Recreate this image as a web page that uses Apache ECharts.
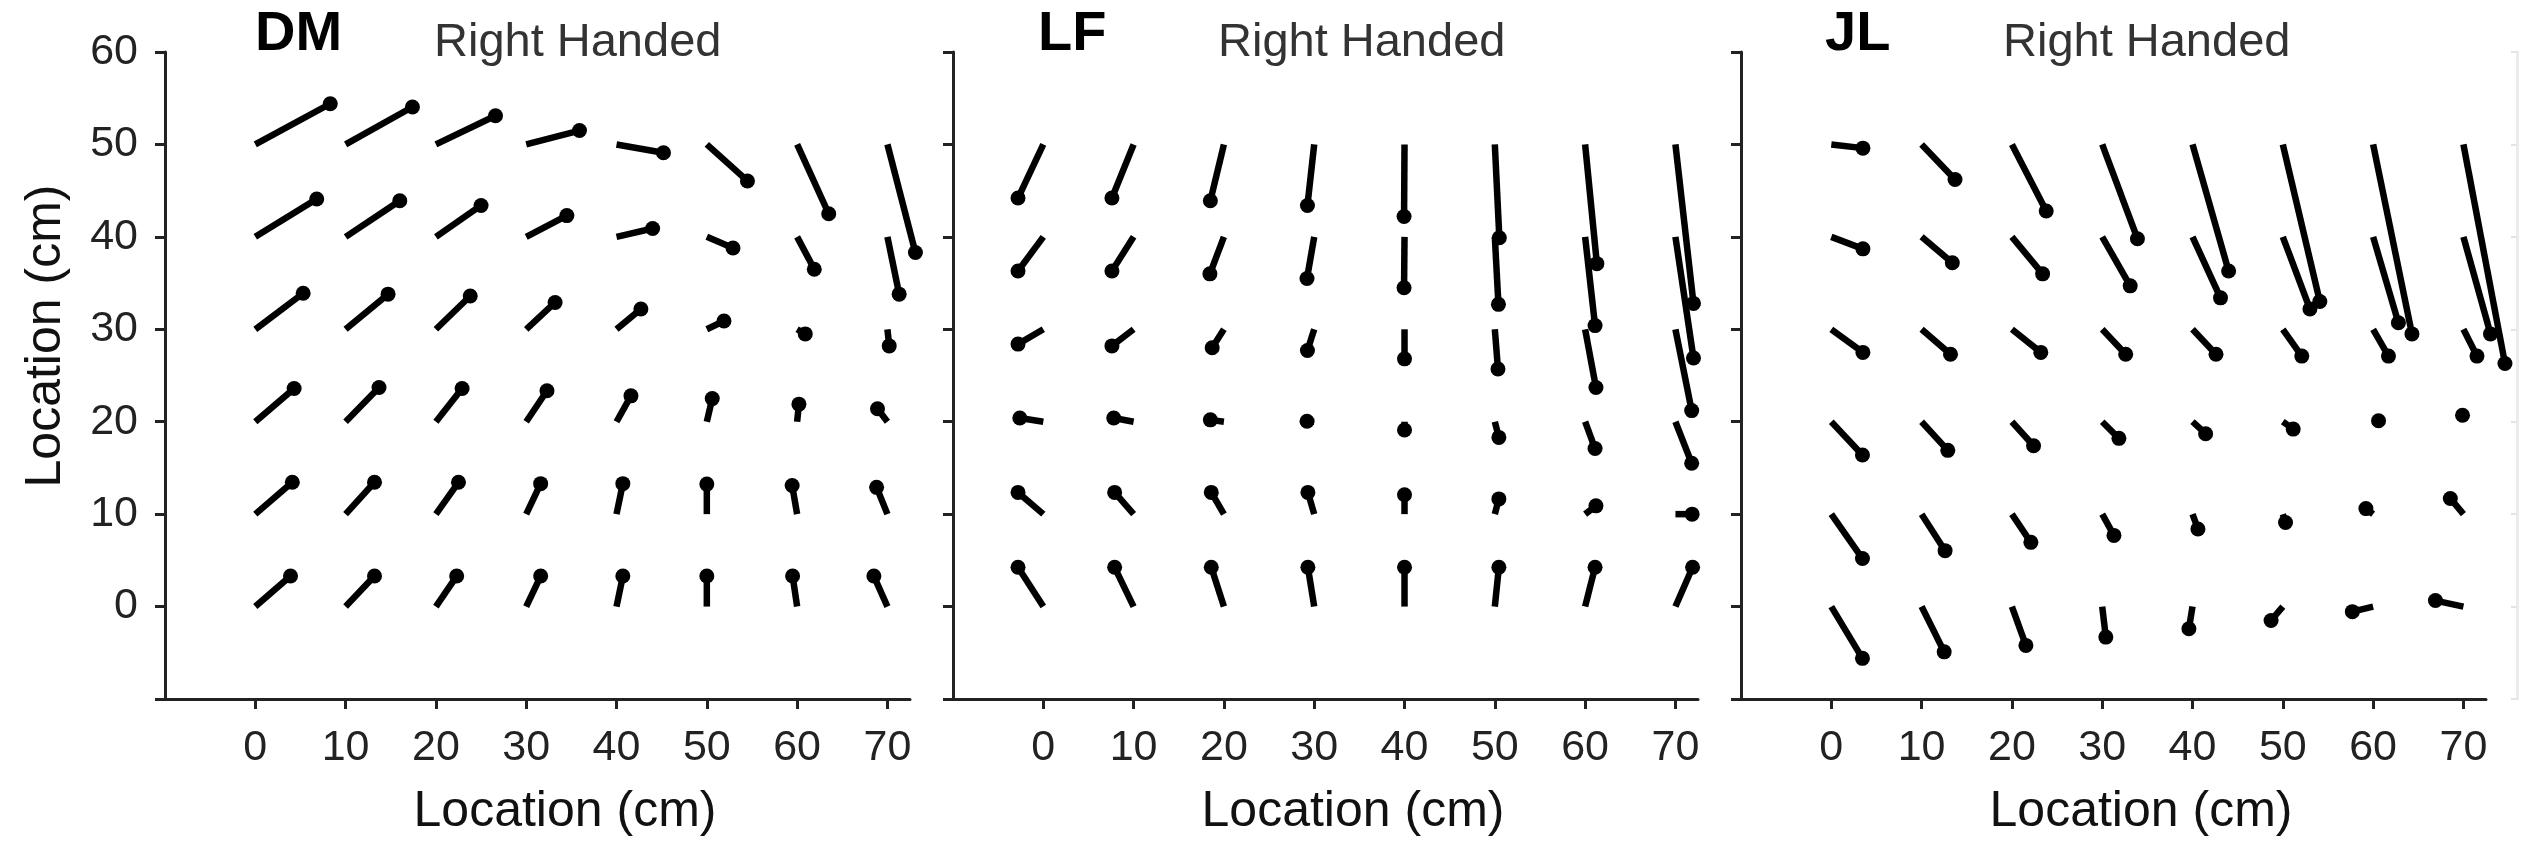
<!DOCTYPE html>
<html>
<head>
<meta charset="utf-8">
<script src="https://cdn.jsdelivr.net/npm/echarts@6/dist/echarts.min.js"></script>
<style>
html,body{margin:0;padding:0;background:#fff;}
#chart{width:2535px;height:850px;}
</style>
</head>
<body>
<div id="chart"></div>
<script>
// ---- data ----
const xs = [0, 10, 20, 30, 40, 50, 60, 70];
const ys = [50, 40, 30, 20, 10, 0];
const xTickValues = [0, 10, 20, 30, 40, 50, 60, 70];
const yLabelValues = [0, 10, 20, 30, 40, 50, 60];
const yTickValues = [-10, 0, 10, 20, 30, 40, 50, 60];
const panelNames = ['DM', 'LF', 'JL'];
const subtitle = 'Right Handed';
const axisName = 'Location (cm)';

// displacement of each vector head from its grid point (rows follow ys, columns follow xs)
const DM_dx = [
  [8.3, 7.4, 6.6, 5.9, 5.2, 4.5, 3.5, 3.1],
  [6.8, 6.0, 5.0, 4.5, 4.0, 2.9, 1.9, 1.3],
  [5.3, 4.7, 3.8, 3.2, 2.7, 1.9, 0.9, 0.2],
  [4.3, 3.7, 2.9, 2.3, 1.6, 0.6, 0.2, -1.1],
  [4.1, 3.2, 2.5, 1.6, 0.7, 0.0, -0.55, -1.2],
  [3.9, 3.2, 2.3, 1.6, 0.7, 0.0, -0.5, -1.5]
];
const DM_dy = [
  [4.4, 4.05, 3.1, 1.5, -0.9, -3.95, -7.5, -11.7],
  [4.1, 3.9, 3.4, 2.3, 0.9, -1.2, -3.5, -6.2],
  [3.9, 3.8, 3.6, 2.9, 2.2, 0.9, -0.5, -1.8],
  [3.6, 3.7, 3.6, 3.35, 2.8, 2.5, 1.9, 1.4],
  [3.45, 3.45, 3.45, 3.3, 3.3, 3.25, 3.1, 2.9],
  [3.3, 3.3, 3.3, 3.3, 3.3, 3.3, 3.3, 3.3]
];
const LF_dx = [
  [-2.8, -2.4, -1.5, -0.75, -0.05, 0.5, 1.3, 2.0],
  [-2.8, -2.4, -1.55, -0.8, -0.05, 0.4, 1.1, 2.0],
  [-2.8, -2.4, -1.3, -0.75, 0.0, 0.35, 1.2, 1.8],
  [-2.6, -2.2, -1.5, -0.8, 0.0, 0.45, 1.1, 1.8],
  [-2.8, -2.1, -1.4, -0.7, 0.0, 0.45, 1.2, 1.85],
  [-2.8, -2.1, -1.4, -0.7, 0.0, 0.45, 1.1, 1.9]
];
const LF_dy = [
  [-5.8, -5.8, -6.1, -6.6, -7.8, -10.1, -12.9, -17.2],
  [-3.7, -3.7, -4.0, -4.5, -5.5, -7.3, -9.6, -13.1],
  [-1.6, -1.8, -2.0, -2.3, -3.2, -4.3, -6.3, -8.8],
  [0.4, 0.4, 0.2, 0.05, -0.9, -1.7, -2.9, -4.5],
  [2.35, 2.35, 2.35, 2.35, 2.1, 1.65, 0.9, 0.0],
  [4.25, 4.25, 4.25, 4.25, 4.25, 4.25, 4.25, 4.25]
];
const JL_dx = [
  [3.5, 3.7, 3.8, 3.9, 4.0, 4.1, 4.3, 4.6],
  [3.5, 3.4, 3.4, 3.1, 3.1, 3.0, 2.8, 3.0],
  [3.5, 3.2, 3.2, 2.6, 2.6, 2.1, 1.7, 1.5],
  [3.45, 2.9, 2.4, 1.85, 1.45, 1.15, 0.6, -0.1],
  [3.45, 2.6, 2.1, 1.3, 0.6, 0.3, -0.8, -1.45],
  [3.45, 2.5, 1.55, 0.4, -0.4, -1.3, -2.3, -3.1]
];
const JL_dy = [
  [-0.4, -3.8, -7.2, -10.2, -13.7, -17.0, -20.5, -23.7],
  [-1.3, -2.8, -4.0, -5.3, -6.6, -7.8, -9.3, -10.5],
  [-2.5, -2.7, -2.5, -2.7, -2.7, -2.9, -2.9, -2.9],
  [-3.6, -3.1, -2.6, -1.8, -1.3, -0.8, 0.1, 0.7],
  [-4.8, -3.95, -3.05, -2.3, -1.6, -0.9, 0.6, 1.7],
  [-5.6, -4.9, -4.2, -3.3, -2.4, -1.5, -0.55, 0.65]
];
const panelDX = [DM_dx, LF_dx, JL_dx];
const panelDY = [DM_dy, LF_dy, JL_dy];

// ---- layout ----
const FONT = '"Liberation Sans", Arial, Helvetica, sans-serif';
const gridLefts = [165, 953, 1741];
const gridTop = 52, gridW = 745, gridH = 647;
const AX = '#222';

const chart = echarts.init(document.getElementById('chart'), null, {renderer: 'canvas'});

function buildData(p) {
  const out = [];
  ys.forEach((y, i) => xs.forEach((x, j) => out.push([x, y, panelDX[p][i][j], panelDY[p][i][j]])));
  return out;
}

function renderVector(params, api) {
  const x = api.value(0), y = api.value(1), dx = api.value(2), dy = api.value(3);
  const p0 = api.coord([x, y]);
  const p1 = api.coord([x + dx, y + dy]);
  return {
    type: 'group',
    children: [
      {type: 'line', shape: {x1: p0[0], y1: p0[1], x2: p1[0], y2: p1[1]},
        style: {stroke: '#000', lineWidth: 6.5, lineCap: 'butt'}},
      {type: 'circle', shape: {cx: p1[0], cy: p1[1], r: 7.5}, style: {fill: '#000'}}
    ]
  };
}

const grids = gridLefts.map(l => ({left: l, top: gridTop, width: gridW, height: gridH}));
grids.push({left: 2517, top: gridTop, width: 10, height: gridH});

const xAxes = [], yAxes = [], series = [];
for (let i = 0; i < 3; i++) {
  xAxes.push({
    gridIndex: i, type: 'value', min: -10, max: 72.5, interval: 10,
    axisLine: {show: true, onZero: false, lineStyle: {color: AX, width: 3}},
    axisTick: {show: true, length: 10, inside: false, customValues: xTickValues, lineStyle: {color: AX, width: 3}},
    axisLabel: {show: true, customValues: xTickValues, fontSize: 43, color: '#222', margin: 28, fontFamily: FONT},
    splitLine: {show: false}
  });
  yAxes.push({
    gridIndex: i, type: 'value', min: -10, max: 60, interval: 10,
    axisLine: {show: true, onZero: false, lineStyle: {color: AX, width: 3}},
    axisTick: {show: true, length: 10, customValues: yTickValues, lineStyle: {color: AX, width: 3}},
    axisLabel: {show: i === 0, customValues: yLabelValues, fontSize: 43, color: '#222', margin: 27, fontFamily: FONT},
    splitLine: {show: false}
  });
  series.push({
    type: 'custom', xAxisIndex: i, yAxisIndex: i, clip: false,
    renderItem: renderVector, encode: {x: 0, y: 1},
    data: buildData(i), silent: true, animation: false
  });
}
// faint edge of a following panel at the far right
xAxes.push({gridIndex: 3, type: 'value', min: 0, max: 1, show: false});
yAxes.push({
  gridIndex: 3, type: 'value', min: -10, max: 60, interval: 10,
  axisLine: {show: true, onZero: false, lineStyle: {color: '#ececec', width: 3}},
  axisTick: {show: true, length: 6, lineStyle: {color: '#e4e4e4', width: 2}},
  axisLabel: {show: false}, splitLine: {show: false}
});

const graphics = [];
const titleX = [255, 1038, 1825];
const subX = [434, 1218, 2003];
for (let i = 0; i < 3; i++) {
  graphics.push({type: 'text', x: titleX[i], y: 35, silent: true,
    style: {text: panelNames[i], font: 'bold 56px ' + FONT, fill: '#000', textAlign: 'left', textVerticalAlign: 'middle'}});
  graphics.push({type: 'text', x: subX[i], y: 43, silent: true,
    style: {text: subtitle, font: '47px ' + FONT, fill: '#333', textAlign: 'left', textVerticalAlign: 'middle'}});
  graphics.push({type: 'text', x: gridLefts[i] + 400, y: 812, silent: true,
    style: {text: axisName, font: '50px ' + FONT, fill: '#111', textAlign: 'center', textVerticalAlign: 'middle'}});
}
graphics.push({type: 'text', x: 46, y: 336, rotation: Math.PI / 2, silent: true,
  style: {text: axisName, font: '50px ' + FONT, fill: '#111', textAlign: 'center', textVerticalAlign: 'middle'}});

chart.setOption({
  animation: false,
  backgroundColor: '#fff',
  grid: grids,
  xAxis: xAxes,
  yAxis: yAxes,
  series: series,
  graphic: graphics
});
</script>
</body>
</html>
